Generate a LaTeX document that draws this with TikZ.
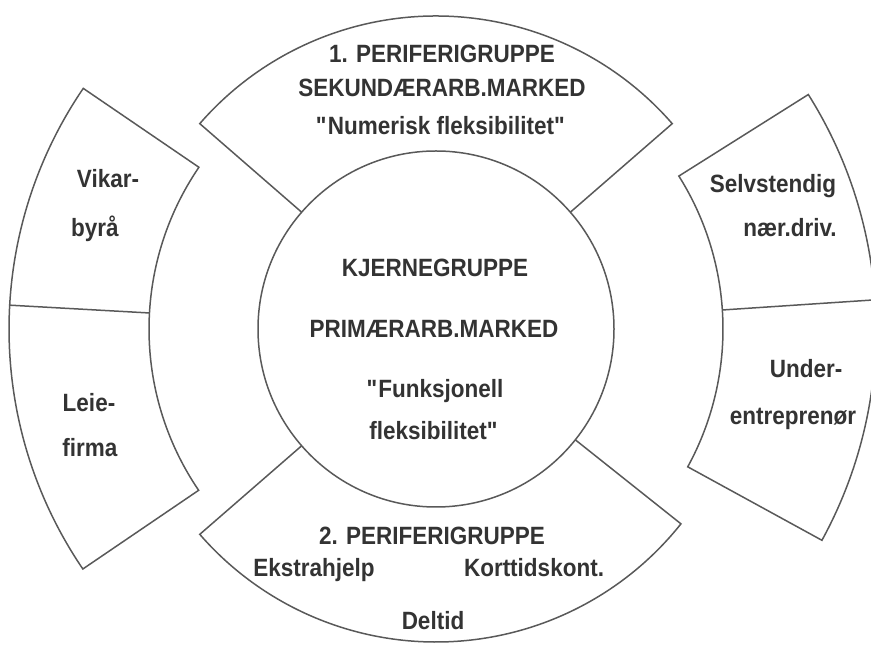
\documentclass[tikz,border=0pt]{standalone}
\usepackage{fontspec}
\setmainfont{Liberation Sans}[FakeStretch=0.9]
\tikzset{
  ring/.style={draw=black!65, line width=0.75pt},
  txt/.style={font=\fontsize{12.5}{14}\selectfont\bfseries, text=black!80,
    inner sep=0pt, text height=9pt, text depth=2.5pt},
}
\begin{document}
\begin{tikzpicture}[x=0.5pt, y=0.5pt]
  \useasboundingbox (-436,-317) rectangle (435,329);
  % Core circle.
  \draw[ring] (0,0) circle (178);
  % Upper and lower peripheral sectors.
  \draw[ring] (41:178) -- (41:313) arc[start angle=41, end angle=139, radius=313] -- (139:178);
  \draw[ring] (-139:178) -- (-139:313) arc[start angle=-139, end angle=-38.5, radius=313] -- (-38.5:178);
  % Left outer sector, split in two.
  \draw[ring] (145.7:287) -- (145.7:427) arc[start angle=145.7, end angle=214.2, radius=427]
    -- (214.2:287) arc[start angle=214.2, end angle=145.7, radius=287] -- cycle;
  \draw[ring] (176.8:287) -- (176.8:427);
  % Right outer sector, split in two.
  \draw[ring] (32.2:287) -- (32.2:440) arc[start angle=32.2, end angle=-28.7, radius=440]
    -- (-28.7:287) arc[start angle=-28.7, end angle=32.2, radius=287] -- cycle;
  \draw[ring] (3.8:287) -- (3.8:440);
  % Texts.
  \node[txt] (peri1)  at (6,273)    {1. PERIFERIGRUPPE};
  \node[txt] (sek)    at (6,239)    {SEKUNDÆRARB.MARKED};
  \node[txt] (num)    at (5,201)    {\textquotedbl Numerisk fleksibilitet\textquotedbl};
  \node[txt] (kjerne) at (-1,59)    {KJERNEGRUPPE};
  \node[txt] (prim)   at (-2,-2)    {PRIMÆRARB.MARKED};
  \node[txt] (funk)   at (-1,-62)   {\textquotedbl Funksjonell};
  \node[txt] (fleks)  at (-2,-104)  {fleksibilitet\textquotedbl};
  \node[txt] (vikar)  at (-328,148) {Vikar-};
  \node[txt] (byraa)  at (-341,99)  {byrå};
  \node[txt] (leie)   at (-347,-76) {Leie-};
  \node[txt] (firma)  at (-346,-121){firma};
  \node[txt] (selv)   at (337,143)  {Selvstendig};
  \node[txt] (naer)   at (354,99)   {nær.driv.};
  \node[txt] (under)  at (370,-42)  {Under-};
  \node[txt] (entr)   at (357,-89)  {entreprenør};
  \node[txt] (peri2)  at (-4,-209)  {2. PERIFERIGRUPPE};
  \node[txt] (ekstra) at (-122,-241){Ekstrahjelp};
  \node[txt] (kort)   at (98,-241)  {Korttidskont.};
  \node[txt] (deltid) at (-3,-294)  {Deltid};
\end{tikzpicture}
\end{document}
